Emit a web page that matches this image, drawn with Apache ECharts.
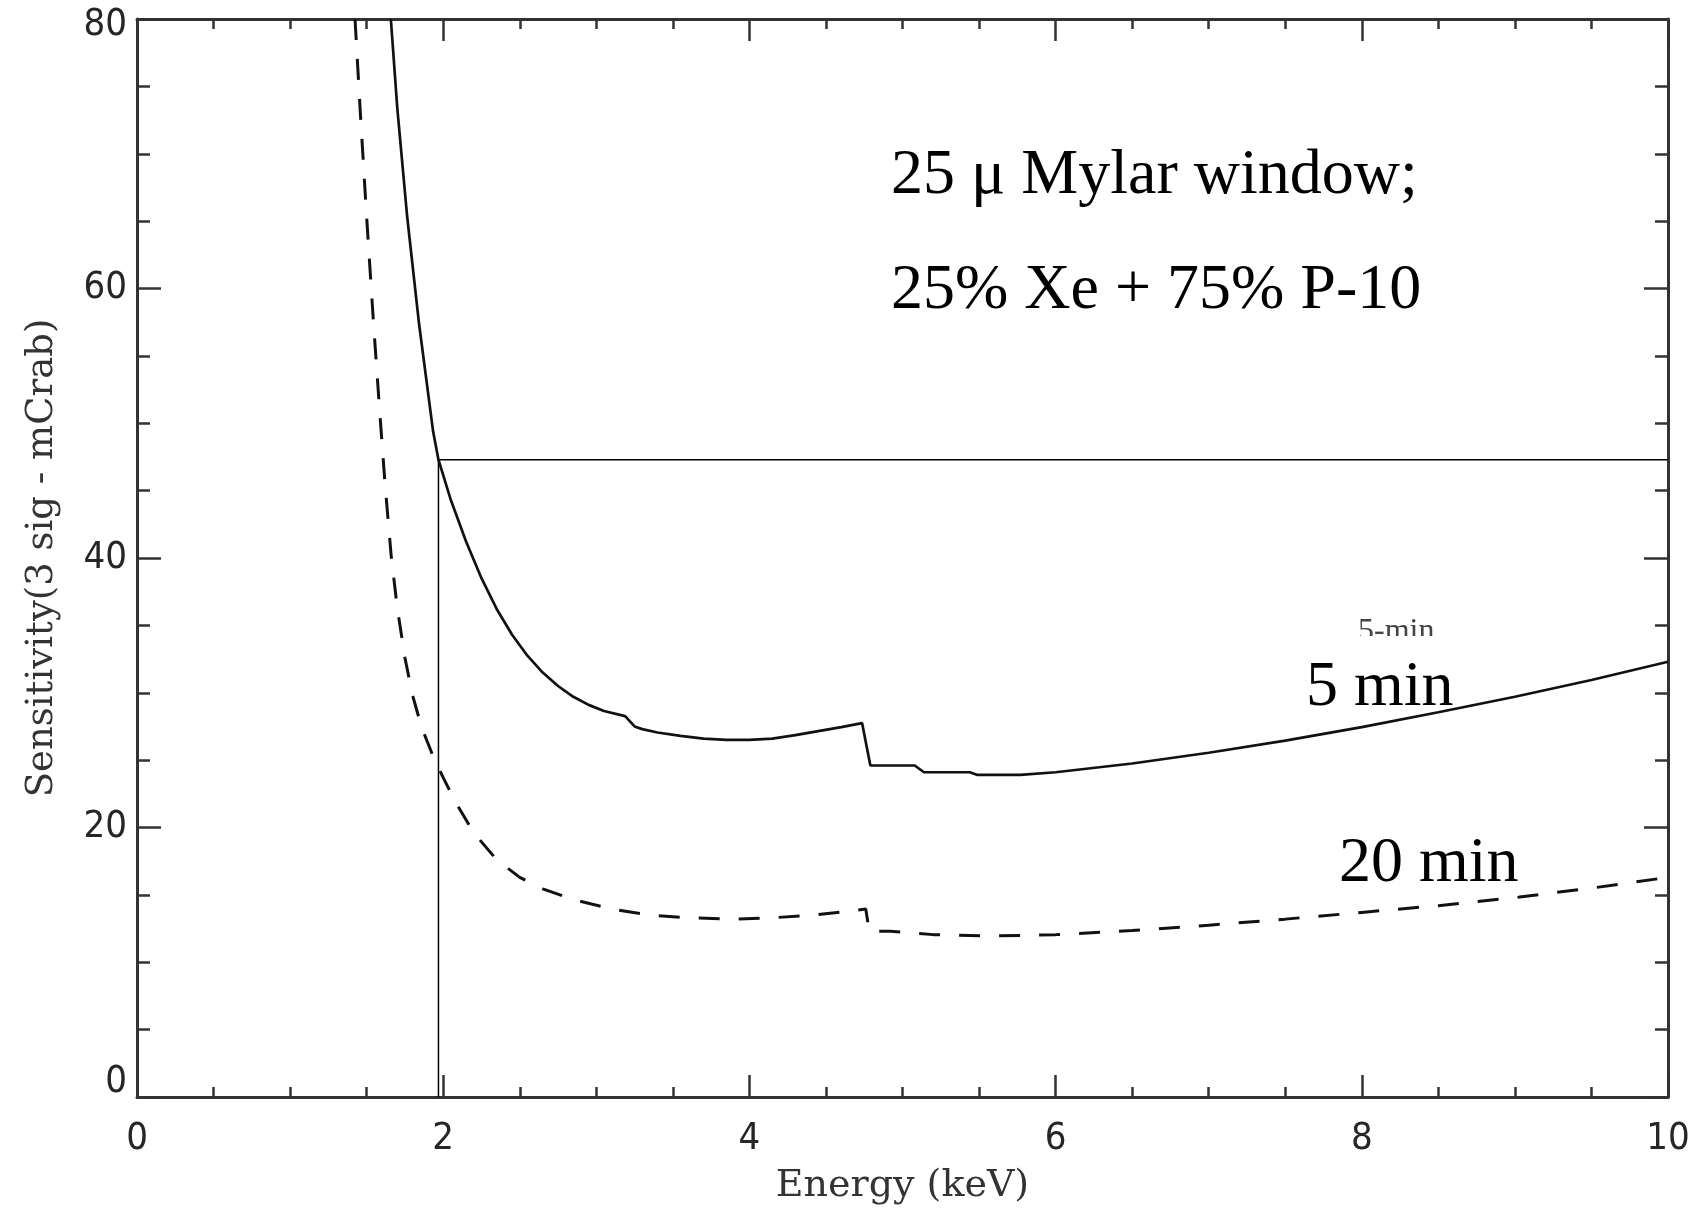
<!DOCTYPE html>
<html>
<head>
<meta charset="utf-8">
<script src="https://cdn.jsdelivr.net/npm/echarts@6/dist/echarts.min.js"></script>
<style>
  html, body { margin: 0; padding: 0; background: #fff; }
  #chart { width: 1693px; height: 1214px; }
</style>
</head>
<body>
<div id="chart"></div>
<script>
// 5 min exposure (solid)
var min5Energy = [1.658, 1.700, 1.764, 1.842, 1.934, 1.969, 2.05, 2.15, 2.25, 2.35, 2.45, 2.55, 2.65, 2.75, 2.85, 2.95, 3.05, 3.175, 3.19, 3.25, 3.30, 3.40, 3.55, 3.70, 3.85, 4.00, 4.15, 4.30, 4.45, 4.60, 4.736, 4.79, 5.08, 5.14, 5.44, 5.49, 5.77, 6.0, 6.5, 7.0, 7.5, 8.0, 8.5, 9.0, 9.5, 10.0]
var min5Sens = [80, 73.4, 65.4, 57.4, 49.4, 47.3, 44.3, 41.2, 38.5, 36.2, 34.3, 32.75, 31.5, 30.5, 29.7, 29.1, 28.65, 28.3, 28.25, 27.5, 27.3, 27.05, 26.8, 26.6, 26.5, 26.5, 26.6, 26.85, 27.15, 27.45, 27.75, 24.6, 24.6, 24.1, 24.1, 23.9, 23.9, 24.1, 24.75, 25.55, 26.45, 27.45, 28.55, 29.7, 30.95, 32.3]

// 20 min exposure (dashed)
var min20Energy = [1.424, 1.46, 1.50, 1.545, 1.587, 1.62, 1.66, 1.70, 1.75, 1.80, 1.86, 1.93, 2.00, 2.08, 2.20, 2.35, 2.50, 2.65, 2.85, 3.10, 3.35, 3.60, 3.90, 4.15, 4.42, 4.69, 4.76, 4.783, 4.92, 5.2, 5.6, 6.0, 6.5, 7.0, 7.5, 8.0, 8.5, 9.0, 9.5, 10.0]
var min20Sens = [80, 72.8, 65.3, 57.4, 50.6, 45.5, 40.2, 36.3, 32.6, 29.8, 27.4, 25.4, 23.7, 21.9, 19.6, 17.6, 16.3, 15.45, 14.65, 13.95, 13.5, 13.3, 13.2, 13.3, 13.5, 13.85, 13.95, 12.3, 12.3, 12.05, 11.95, 12.05, 12.35, 12.75, 13.2, 13.7, 14.2, 14.8, 15.5, 16.3]

// guide lines (threshold box)
var guideEnergy = [1.969, 1.969, 10]
var guideSens = [0, 47.3, 47.3]

var xTicks = [0, 2, 4, 6, 8, 10]
var yTicks = [0, 20, 40, 60, 80]

function zip(a, b) {
  return a.map(function (v, i) { return [v, b[i]] })
}

var myChart = echarts.init(document.getElementById('chart'))

var axisColor = '#333'
var tickFont = 'DejaVu Sans Condensed'
var nameFont = 'DejaVu Serif'

function xAxisCfg(pos, showLabel) {
  return {
    type: 'value',
    position: pos,
    min: xTicks[0],
    max: xTicks[xTicks.length - 1],
    interval: 2,
    axisLine: { show: true, onZero: false, lineStyle: { color: axisColor, width: 3 } },
    axisTick: { show: true, inside: true, length: 22, lineStyle: { color: axisColor, width: 2.5 } },
    minorTick: { show: true, splitNumber: 4, length: 10, lineStyle: { color: axisColor, width: 2.5 } },
    splitLine: { show: false },
    axisLabel: {
      show: showLabel,
      margin: 23,
      color: '#262626',
      fontFamily: tickFont,
      fontSize: 38
    }
  }
}

function yAxisCfg(pos, showLabel) {
  return {
    type: 'value',
    position: pos,
    min: yTicks[0],
    max: yTicks[yTicks.length - 1],
    interval: 20,
    axisLine: { show: true, onZero: false, lineStyle: { color: axisColor, width: 3 } },
    axisTick: { show: true, inside: true, length: 24, lineStyle: { color: axisColor, width: 2.5 } },
    minorTick: { show: true, splitNumber: 4, length: 13, lineStyle: { color: axisColor, width: 2.5 } },
    splitLine: { show: false },
    axisLabel: {
      show: showLabel,
      margin: 10,
      color: '#262626',
      fontFamily: tickFont,
      fontSize: 38,
      formatter: function (v) {
        if (v === 0) return '{lo|0}'
        if (v === 80) return '{hi|80}'
        return v
      },
      rich: {
        lo: { fontFamily: tickFont, fontSize: 38, color: '#262626', padding: [0, 0, 30, 0] },
        hi: { fontFamily: tickFont, fontSize: 38, color: '#262626', padding: [12, 0, 0, 0] }
      }
    }
  }
}

var xBottom = xAxisCfg('bottom', true)
xBottom.name = 'Energy (keV)'
xBottom.nameLocation = 'middle'
xBottom.nameGap = 70
xBottom.nameTextStyle = { fontFamily: nameFont, fontSize: 38, color: '#333' }

var yLeft = yAxisCfg('left', true)
yLeft.name = 'Sensitivity(3 sig - mCrab)'
yLeft.nameLocation = 'middle'
yLeft.nameGap = 76
yLeft.nameTextStyle = { fontFamily: nameFont, fontSize: 37, color: '#333' }

var bigText = { fontFamily: 'Liberation Serif', fontSize: 64, fill: '#000', verticalAlign: 'middle' }

function label(txt, x, y, z, extra) {
  return { type: 'text', z: z, x: x, y: y, style: Object.assign({ text: txt }, bigText, extra || {}) }
}

const option = {
  backgroundColor: '#fff',
  animation: false,
  grid: {
    left: 137,
    right: 25,
    top: 19,
    bottom: 117,
    outerBoundsMode: 'none'
  },
  xAxis: [xBottom, xAxisCfg('top', false)],
  yAxis: [yLeft, yAxisCfg('right', false)],
  series: [
    {
      name: '5 min',
      type: 'line',
      data: zip(min5Energy, min5Sens),
      showSymbol: false,
      lineStyle: { color: '#111', width: 2.7 },
      z: 3
    },
    {
      name: '20 min',
      type: 'line',
      data: zip(min20Energy, min20Sens),
      showSymbol: false,
      lineStyle: { color: '#111', width: 3, type: [21, 19] },
      z: 3
    },
    {
      name: 'guide',
      type: 'line',
      data: zip(guideEnergy, guideSens),
      showSymbol: false,
      silent: true,
      lineStyle: { color: '#000', width: 1.5 },
      z: 2
    }
  ],
  graphic: [
    label('25 μ Mylar window;', 891, 176, 100),
    label('25% Xe + 75% P-10', 891, 291, 100),
    { type: 'text', z: 100, x: 1358, y: 632, style: { text: '5-min', fontFamily: 'Liberation Serif', fontSize: 32, fill: '#444', verticalAlign: 'middle' } },
    // the "5 min" box hides the lower half of the small label
    { type: 'rect', z: 101, shape: { x: 1350, y: 636, width: 95, height: 20 }, style: { fill: '#fff' } },
    label('5 min', 1306, 688, 102),
    label('20 min', 1339, 864, 102, { backgroundColor: '#fff' })
  ]
}

myChart.setOption(option)
</script>
</body>
</html>
